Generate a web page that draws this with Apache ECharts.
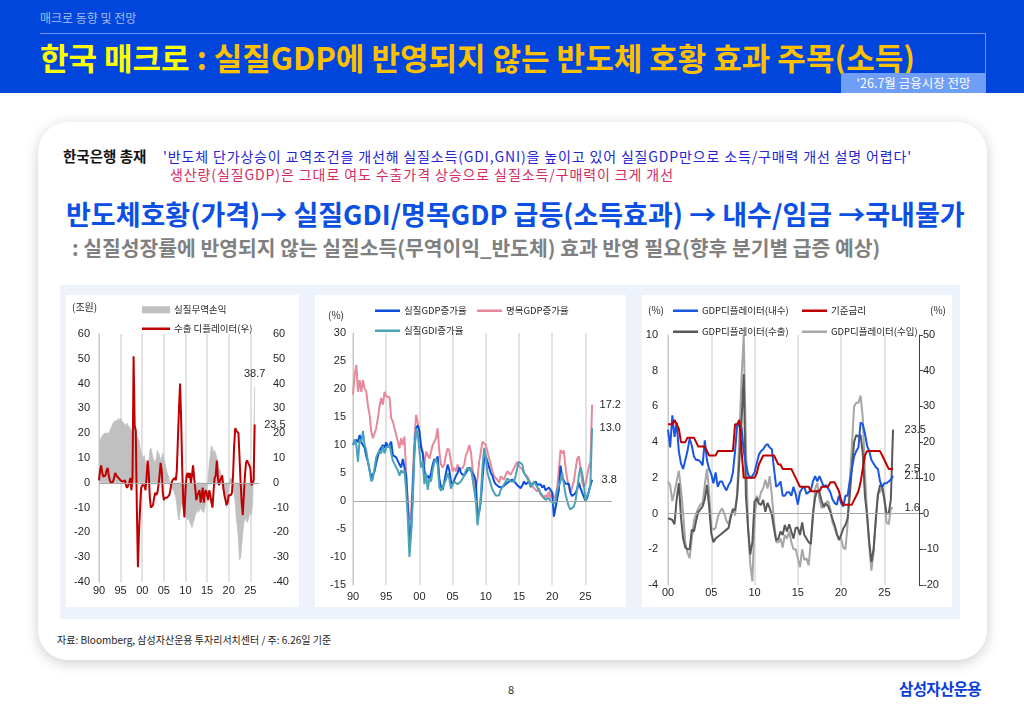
<!DOCTYPE html>
<html>
<head>
<meta charset="utf-8">
<script src="https://cdn.jsdelivr.net/npm/echarts/dist/echarts.min.js"></script>
<style>
  body { margin: 0; width: 1024px; height: 709px; overflow: hidden; background: #fff; position: relative;
         font-family: "Noto Sans CJK KR", "Noto Sans", sans-serif; }
  .abs { position: absolute; white-space: nowrap; }
  #band { left: 0; top: 0; width: 1024px; height: 93px; background: #0046dc; }
  #chart { position: absolute; left: 0; top: 0; width: 1024px; height: 709px; }
</style>
</head>
<body>
<div id="band" class="abs"></div>
<div class="abs" style="left:40px;top:9px;font-size:12px;line-height:18px;color:#a9bff3">매크로 동향 및 전망</div>
<div class="abs" style="left:40px;top:33px;width:946px;height:1px;background:#6d93f2"></div>
<div class="abs" style="left:985px;top:33px;width:1px;height:40px;background:#6d93f2"></div>
<div class="abs" style="left:40px;top:37px;font-size:31px;line-height:40px;font-weight:bold">
  <span style="color:#ffff00">한국 매크로</span><span style="color:#ffc000"> : 실질GDP에 반영되지 않는 반도체 호황 효과 주목(소득)</span>
</div>
<div class="abs" style="left:841px;top:73px;width:145px;height:20px;background:#6f9ef7;color:#fff;font-size:12.5px;line-height:20px;text-align:center">'26.7월 금융시장 전망</div>

<!-- card -->
<div class="abs" style="left:38px;top:122px;width:949px;height:538px;border-radius:30px;background:#fff;box-shadow:0 3px 14px rgba(0,0,0,0.2)"></div>

<div class="abs" style="left:63px;top:146px;font-size:14.5px;line-height:20px;font-weight:bold;color:#111">한국은행 총재</div>
<div class="abs" style="left:163px;top:146px;font-size:14px;line-height:20px;color:#2424d4;letter-spacing:0.85px">'반도체 단가상승이 교역조건을 개선해 실질소득(GDI,GNI)을 높이고 있어 실질GDP만으로 소득/구매력 개선 설명 어렵다'</div>
<div class="abs" style="left:170px;top:164px;font-size:14px;line-height:20px;color:#d62a5f;letter-spacing:0.9px">생산량(실질GDP)은 그대로 여도 수출가격 상승으로 실질소득/구매력이 크게 개선</div>
<div class="abs" style="left:66px;top:197px;font-size:27px;line-height:34px;font-weight:bold;color:#0b50e3">반도체호황(가격)→ 실질GDI/명목GDP 급등(소득효과) → 내수/임금 →국내물가</div>
<div class="abs" style="left:72px;top:234px;font-size:20.4px;line-height:26px;font-weight:bold;color:#808080">: 실질성장률에 반영되지 않는 실질소득(무역이익_반도체) 효과 반영 필요(향후 분기별 급증 예상)</div>

<!-- chart backdrop -->
<div class="abs" style="left:60px;top:285px;width:900px;height:334px;background:#eef3fb"></div>
<div class="abs" style="left:66px;top:295px;width:233px;height:312px;background:#fff"></div>
<div class="abs" style="left:315px;top:295px;width:311px;height:312px;background:#fff"></div>
<div class="abs" style="left:642px;top:295px;width:310px;height:312px;background:#fff"></div>

<div class="abs" style="left:57px;top:632px;font-size:10px;line-height:16px;color:#222">자료: Bloomberg, 삼성자산운용 투자리서치센터 / 주: 6.26일 기준</div>
<div class="abs" style="left:508px;top:681px;font-size:11px;line-height:16px;color:#333">8</div>
<div class="abs" style="left:899px;top:677px;font-size:15.5px;line-height:22px;font-weight:bold;color:#0a40d8;letter-spacing:-0.6px">삼성자산운용</div>

<div id="chart"></div>

<script>
// chart 1: 실질무역손익 (조원) & 수출 디플레이터 (%), quarterly from 1990Q1
const tradeStart = 1990;
const tradeGain = [
  17, 17, 18, 19,   19, 20, 20, 20,   20, 20, 21, 22,   23, 24, 24, 25,
  25, 25, 26, 25,   26, 25, 25, 24,   23, 23, 24, 23,   23, 22, 21, 20,
  21, 23, 22, 19,   18, 17, 14, 12,   11, 10, 11, 8,    7, 6, 8, 13,
  14, 12, 10, 9,    8, 10, 13, 12,    11, 9, 10, 12,    10, 8, 6, 4,
  3, 1, -1, -2,     -2, -3, -3, -6,   -9, -13, -15, -12, -8, -9, -11, -10,
  -12, -14, -15, -14, -16, -17, -18, -16, -15, -13, -12, -11, -12, -11, -10, -11,
  -11, -12, -10, -7, -2, 2, 8, 11,    15, 14, 12, 13,   13, 10, 8, 6,
  5, 3, 1, -3,      -5, -8, -10, -7,  -3, 1, 2, 1,      -2, -4, -8, -14,
  -18, -23, -31, -30, -25, -20, -16, -15, -14, -16, -15, -13, -12, -13, -9, 8,
  38.7
];
const exportDeflator = [
  1, 5, 7, 4,       2.5, 2, 3, 5,     6, 3, 1, 0,       0, 0.5, 2, 4,
  3, 2.5, 2, 1.5,   1, 1, 0.5, 1,     1, -1, -2, -1,    0, 2, -3, 2,
  51, 23, 21, -10,  -34, -20, -10, -2, -1, -1, -1, -3,  2, 9, 4, -6,
  -10, -10, -9, -6, -4, -5, -4, -1,   3, 8, 5, -4,      -7, -6, -6, -6,
  -6, -5, -3, 0,    1, 1, 2, 1,       5, 18, 30, 40,    25, 5, -8, -14,
  -3, 3, 4, 2,      4, 0, 3, 7,       2, -2, -7, -5,    -4, -3, -8, -5,
  -2, -8, -4, -3,   -3, -7, -3, -5,   -8, -10, -3, 2,   3, 9, 2, -1,
  1, 2, 3, -2,      -5, -7, -9, -8,   -5, -5, -5, -4,   3, 15, 22, 21,
  21, 20, 10, 0,    -8, -13, -5, 3,   8, 9, 8, 7.5,     6, -1, -1, 1,
  23.5
];

// chart 2: 증가율 (%), quarterly from 1990Q1
const growthStart = 1990;
const realGdp = [
  10, 10.5, 10.9, 10.5, 11.8, 10.5, 10.2, 9.5, 8, 7, 5.5, 4.2,   4, 5.3, 6.8, 8,
  9, 9.5, 10, 9.5,    10.5, 9.6, 10, 10.6,  8.2, 8, 7.8, 7.5,    6.5, 6, 7.5, 6,
  4.5, -1, -7, -5,    2, 9, 13, 13.5,       12.5, 9.5, 8.5, 5.5, 4, 4.5, 4, 5,
  6.5, 7.5, 7, 8,     4, 2.5, 2, 3.5,       5, 6.5, 5.5, 3.5,    3, 3.3, 4.5, 5,
  6, 5, 5, 4.5,       5, 5.5, 6, 5.5,       5.5, 4.5, 3.5, -2.8, -2, 0, 4, 7.5,
  8, 7, 6, 5,         4.5, 3.5, 3, 2.8,     2.5, 2.2, 2.5, 2.5,  3, 3.3, 3.5, 3.8,
  3.8, 3.5, 3.2, 2.8, 2.5, 2.3, 2.8, 3.5,   3, 3.3, 3.5, 2.5,    3, 3.3, 3.5, 2.9,
  2.8, 3, 2.4, 2.8,   1.9, 2.2, 2.4, 2.3,   1.5, -2.8, -1.2, -1, 2, 6.3, 4.2, 4.3,
  3.1, 2.9, 3.1, 1.4, 0.9, 0.9, 1.4, 2.1,   3.3, 2.3, 1.5, 1.2,  0, 0.5, 1.7, 1.9,
  3.8
];
const nominalGdp = [
  19, 22.5, 24.3, 19.5, 21.6, 19.5, 21.6, 20, 19.6, 17, 15.4, 12.4, 11.2, 12.1, 13, 14.8,
  17, 18.4, 17.2, 19.5, 18.7, 19, 18.5, 14.8, 14.2, 13, 11.8, 10.6, 9.4, 11.2, 10, 11.5,
  5, 0, -3.5, -2,     4, 11, 15.4, 14,      12.4, 10, 8.8, 6.5,  8.8, 9.1, 7.6, 8.8,
  10, 10.6, 11.2, 13, 8.8, 6.5, 6, 6.5,     8.2, 9.4, 9, 7,      5.3, 5.9, 5.3, 6.5,
  5.5, 5.3, 5.9, 6.5, 8.2, 8.8, 10, 8.8,    5.9, 3.5, 2.3, 4,    7, 8.8, 10.6, 10.9,
  10, 8.8, 7.6, 7.6,  5.3, 4.4, 4.7, 3.8,   3.2, 4.4, 4.7, 3.8,  4.7, 5.3, 5, 4.7,
  5.3, 5.9, 6.5, 7,   6.2, 6, 5.6, 5,       4.7, 4.4, 4.1, 3.2,  2.9, 2.3, 2.6, 1.7,
  2.3, 1.1, 1.4, 0.5, 1.1, 0.5, 1.7, 0.5,   1.5, 0.5, 1, 2.5,    5.5, 9.1, 8.5, 9,
  6, 4, 2.5, 1.5,     1.5, 3.5, 5.5, 7.5,   8, 6, 3.5, 2.5,      3, 4.5, 6, 7,
  17.2
];
const realGdi = [
  10, 11, 10, 7,      11, 10.5, 12.5, 10,   9, 7, 5.5, 3.5,      4, 6, 7.8, 8.5,
  9, 8.5, 9.8, 8.5,   9.5, 9.2, 10, 8.5,    7.2, 7, 6, 5.5,      4.5, 5.5, 5, 5.5,
  2, -3, -10, -6,     0, 9, 13, 12,         9, 6, 7, 3,          5, 2, 4, 3.5,
  5.5, 7, 7.5, 6.5,   2.5, 1.8, 2.5, 2.5,   3.8, 5, 4, 2.2,      2.5, 3.5, 3.5, 3,
  3, 3.5, 4, 4.5,     5.5, 6, 5.5, 6,       4, 2, 0, -4.3,       -2, 1, 6, 9.5,
  8, 5, 4, 3,         2, 1.5, 1, 0.8,       1, 2, 2.5, 3,        3.5, 4, 4, 3.5,
  3.2, 3.5, 4.5, 6,   7, 7.3, 6.5, 5,       4.5, 4, 3.5, 2.5,    3, 3.5, 3, 2.5,
  1.8, 1.5, 1, 1.2,   0.2, 0, 0.5, 0,       0.3, -0.5, 0.2, 2,   2, 3.5, 5, 3,
  1.2, 0, -1, -1.5,   -1.5, -1, 0, 2,       4.5, 6, 5, 3,        0, 1, 1.5, 3,
  13
];

// chart 3: GDP 디플레이터 & 기준금리 (%), quarterly from 2000Q1
const deflStart = 2000;
const deflDomestic = [
  4.7, 3.7, 5.5, 4.3,  5.1, 3.5, 2.8, 2.5,  3, 3.5, 4.2, 3.8,  3.2, 3, 3, 2.9,
  2.7, 4.1, 3, 2.5,    2.2, 1.7, 2.3, 1.5,  1.8, 1.8, 1.5, 1.3, 1.6, 1.8, 2.3, 3.5,
  5, 4.9, 4.8, 3.5,    2.8, 2.2, 2, 2.1,    2.3, 2.8, 3.3, 3.5, 3.6, 3.8, 3.9, 3.7,
  3.6, 2.5, 1.5, 1.6,  1.8, 1, 1, 1.2,      1.2, 1, 1.5, 1.1,   0.5, 1.2, 1.4, 1.5,
  1.1, 1.2, 1.3, 1.8,  2.1, 1.8, 2.1, 1.8,  1.5, 1.6, 1.4, 1.2, 0.8, 0.6, 0.5, 1,
  0.6, 0.4, 1, 1,      1.8, 2.5, 3.2, 3.5,  3.7, 5.1, 5, 4.5,   3.8, 3.5, 3, 2.8,
  2.6, 2.5, 1.8, 1.5,  1.7, 1.7, 1.8, 1.9,  2.1
];
const baseRate = [
  5, 5, 5, 5.25,       5, 4.75, 4, 4,       4, 4.25, 4.25, 4.25, 4.25, 4, 3.75, 3.75,
  3.75, 3.75, 3.5, 3.25, 3.25, 3.25, 3.25, 3.5, 3.5, 3.5, 3.5, 3.5, 3.5, 3.5, 3.5, 5,
  5, 5.25, 3.5, 2,     2, 2, 2, 2,          2, 2.25, 2.75, 3,   3.25, 3.25, 3.25, 3.25,
  3.25, 3.25, 3, 2.75, 2.75, 2.5, 2.5, 2.5, 2.5, 2.5, 2.25, 2, 1.75, 1.5, 1.5, 1.5,
  1.5, 1.5, 1.25, 1.25, 1.25, 1.25, 1.25, 1.5, 1.5, 1.5, 1.5, 1.75, 1.75, 1.75, 1.5, 1.25,
  0.75, 0.5, 0.5, 0.5, 0.5, 0.5, 0.75, 1,   1.25, 1.75, 2.5, 3.25, 3.5, 3.5, 3.5, 3.5,
  3.5, 3.5, 3.5, 3.25, 3, 2.75, 2.5, 2.5,  2.5
];
const deflExport = [
  -1.3, -1.5, -1.8, -3, 4, 8.5, -1, -7,     -9.5, -10, -10, -4.5, -5, -2, 0.5, 1.2,
  2, 4, 8, 2,          -5.5, -8, -7, -6.5,  -6, -5.5, -5, -4.5,  -4, -1, 1, 1,
  5, 15, 26, 39,       5, -4, -11.5, -8,    3.3, 4.3, 2.8, 2.4,  3.8, 0.5, 3, 1.5,
  -0.4, -4.2, -7.5, -7, -5, -6, -3.2, -5,   -3, -5, -7, -4,      -4, -6, -2.5, -6,
  -7, -8, -8.5, 0,     4.5, 6.5, 6, 3.5,    1.8, 2.8, 2, 0.5,    -1.5, -3.2, -5.5, -7.4,
  -6, -4.2, -3.2, -1.3, 5, 13, 20, 22,      21.5, 22, 17, 5,     -0.5, -8, -13.5, -10,
  -2, 5, 8, 7.5,       4, 0, 0, 4,          23.5
];
const deflImport = [
  9, 8, 3.5, 6,        9, 12, 7, 0,         -8, -11, -12.5, -7,  -2, 0, 1.5, 2.5,
  3, 8, 12.5, 6,       -4, -4.5, -4, -1,    0.5, 1.5, 0, -2,     -3, -0.5, 1.5, -0.5,
  6, 22, 38, 50,       20, -4, -14, -19,    -2, 5, 3.5, 6,       7, 9.5, 7, 10.5,
  5, -2, -8, -8,       -7, -9.5, -6, -7,    -5, -8, -10, -10,    -12.5, -15, -10, -13,
  -12.5, -14.5, -8, -1, 7, 8.5, 4, 1.5,     2.5, 3, 3.5, 1.5,    -2.5, -4, -6, -7,
  -7, -9.5, -10, -3,   9, 19, 30, 31,       31, 33, 27, 12,      0, -9, -16, -11,
  -2, 6, 6, 7.5,       4, -2.5, -3, 1.5,    1.6
];

const tickFont = 'Liberation Sans';
const cjk = 'Noto Sans CJK KR';
const tickColor = '#262626';

function quarterly(start, values) {
  return values.map((v, i) => [start + i / 4, v]);
}
function endPoint(start, values, position, distance) {
  const i = values.length - 1;
  return {
    symbol: 'circle', symbolSize: 1, itemStyle: { color: 'rgba(0,0,0,0)' },
    label: { show: true, position: position, distance: distance, color: tickColor, fontSize: 11,
             fontFamily: tickFont, formatter: p => p.value.toFixed(1) },
    data: [{ coord: [start + i / 4, values[i]], value: values[i] }]
  };
}
const zeroLine = {
  silent: true, symbol: ['none', 'none'], label: { show: false },
  lineStyle: { color: '#a6a6a6', width: 1, type: 'solid' }, data: [{ yAxis: 0 }]
};
function yearAxis(grid, min, max, margin) {
  return {
    type: 'value', gridIndex: grid, min: min, max: max, interval: 5,
    axisLine: { show: false }, axisTick: { show: false },
    axisLabel: { color: tickColor, fontSize: 11, fontFamily: tickFont, margin: margin, showMaxLabel: false,
                 formatter: v => v % 5 === 0 ? String(v % 100).padStart(2, '0') : '' },
    splitLine: { show: true, showMaxLine: false, lineStyle: { color: '#d9d9d9', width: 1.5 } }
  };
}
function valueAxis(grid, min, max, interval, extra) {
  return Object.assign({
    type: 'value', gridIndex: grid, min: min, max: max, interval: interval,
    axisLine: { show: false }, axisTick: { show: false }, splitLine: { show: false },
    axisLabel: { color: tickColor, fontSize: 11, fontFamily: tickFont }
  }, extra);
}
function legendItem(name, left, top, w, h) {
  return {
    data: [{ name: name, icon: 'rect' }], left: left, top: top, padding: 0, itemGap: 0,
    itemWidth: w, itemHeight: h, selectedMode: false,
    textStyle: { fontSize: 9.5, color: tickColor, fontFamily: cjk, padding: [0, 0, 0, -1] }
  };
}
function lineSeries(name, x, y, start, values, color, width, z) {
  return {
    name: name, type: 'line', xAxisIndex: x, yAxisIndex: y, data: quarterly(start, values),
    symbol: 'none', z: z, lineStyle: { color: color, width: width }, itemStyle: { color: color },
    animation: false
  };
}
function unitText(text, left, top) {
  return { type: 'text', left: left, top: top, style: { text: text, fill: tickColor, font: '10px "' + cjk + '"' } };
}

const chart = echarts.init(document.getElementById('chart'));

const gdpLine = lineSeries('실질GDP증가율', 1, 2, growthStart, realGdp, '#0b4fdc', 2, 3);
gdpLine.markPoint = endPoint(growthStart, realGdp, 'right', 9);
const nomLine = lineSeries('명목GDP증가율', 1, 2, growthStart, nominalGdp, '#e8899b', 2, 2);
nomLine.markPoint = endPoint(growthStart, nominalGdp, 'right', 7);
nomLine.markLine = zeroLine;
const gdiLine = lineSeries('실질GDI증가율', 1, 2, growthStart, realGdi, '#4aa2b6', 2, 4);
gdiLine.markPoint = endPoint(growthStart, realGdi, 'right', 7);

const impLine = lineSeries('GDP디플레이터(수입)', 2, 4, deflStart, deflImport, '#a6a6a6', 2, 2);
impLine.markPoint = endPoint(deflStart, deflImport, 'right', 11);
impLine.markLine = zeroLine;
const expLine = lineSeries('GDP디플레이터(수출)', 2, 4, deflStart, deflExport, '#595959', 2, 3);
expLine.markPoint = endPoint(deflStart, deflExport, 'right', 11);
const domLine = lineSeries('GDP디플레이터(내수)', 2, 3, deflStart, deflDomestic, '#1a56e0', 2, 4);
domLine.markPoint = endPoint(deflStart, deflDomestic, 'right', 11);
const rateLine = lineSeries('기준금리', 2, 3, deflStart, baseRate, '#c00000', 2, 5);
rateLine.markPoint = endPoint(deflStart, baseRate, 'right', 11);

const tradeArea = lineSeries('실질무역손익', 0, 0, tradeStart, tradeGain, '#c0c0c0', 0.8, 1);
tradeArea.areaStyle = { color: '#c0c0c0', opacity: 1 };
tradeArea.markLine = zeroLine;
tradeArea.markPoint = endPoint(tradeStart, tradeGain, 'top', 7);
const exportLine = lineSeries('수출 디플레이터(우)', 0, 1, tradeStart, exportDeflator, '#c00000', 2, 3);
exportLine.markPoint = endPoint(tradeStart, exportDeflator, 'right', 9);

chart.setOption({
  animation: false,
  grid: [
    { left: 99, top: 334, width: 160, height: 248 },
    { left: 353, top: 333, width: 259, height: 252 },
    { left: 668, top: 335, width: 251, height: 250 }
  ],
  xAxis: [
    yearAxis(0, 1990, 2027, 3),
    yearAxis(1, 1990, 2029, 6),
    yearAxis(2, 2000, 2029, 2)
  ],
  yAxis: [
    valueAxis(0, -40, 60, 10, { axisLine: { show: true, lineStyle: { color: '#c8c8c8' } },
      axisLabel: { color: tickColor, fontSize: 11, fontFamily: tickFont, margin: 9 } }),
    valueAxis(0, -40, 60, 10, { position: 'right',
      axisLabel: { color: tickColor, fontSize: 11, fontFamily: tickFont, margin: 14 } }),
    valueAxis(1, -15, 30, 5, { axisLine: { show: true, lineStyle: { color: '#c8c8c8' } },
      axisLabel: { color: tickColor, fontSize: 11, fontFamily: tickFont, margin: 7 } }),
    valueAxis(2, -4, 10, 2, { axisLine: { show: true, lineStyle: { color: '#c8c8c8' } },
      axisLabel: { color: tickColor, fontSize: 11, fontFamily: tickFont, margin: 10 } }),
    valueAxis(2, -20, 50, 10, { position: 'right',
      axisLine: { show: true, lineStyle: { color: '#404040', width: 1 } },
      axisTick: { show: true, length: 4, lineStyle: { color: '#404040' } },
      axisLabel: { color: tickColor, fontSize: 11, fontFamily: tickFont, margin: 4 } })
  ],
  legend: [
    legendItem('실질무역손익', 142, 305, 28, 7),
    legendItem('수출 디플레이터(우)', 142, 324, 28, 2.5),
    legendItem('실질GDP증가율', 375, 306, 25, 2.5),
    legendItem('명목GDP증가율', 477, 306, 25, 2.5),
    legendItem('실질GDI증가율', 375, 326, 25, 2.5),
    legendItem('GDP디플레이터(내수)', 673, 306, 25, 2.5),
    legendItem('기준금리', 802, 306, 25, 2.5),
    legendItem('GDP디플레이터(수출)', 673, 327, 25, 2.5),
    legendItem('GDP디플레이터(수입)', 802, 327, 25, 2.5)
  ],
  graphic: [
    unitText('(조원)', 72, 302),
    unitText('(%)', 328, 310),
    unitText('(%)', 648, 305),
    unitText('(%)', 930, 305)
  ],
  series: [tradeArea, exportLine, nomLine, gdpLine, gdiLine, impLine, expLine, domLine, rateLine]
});
</script>
</body>
</html>
